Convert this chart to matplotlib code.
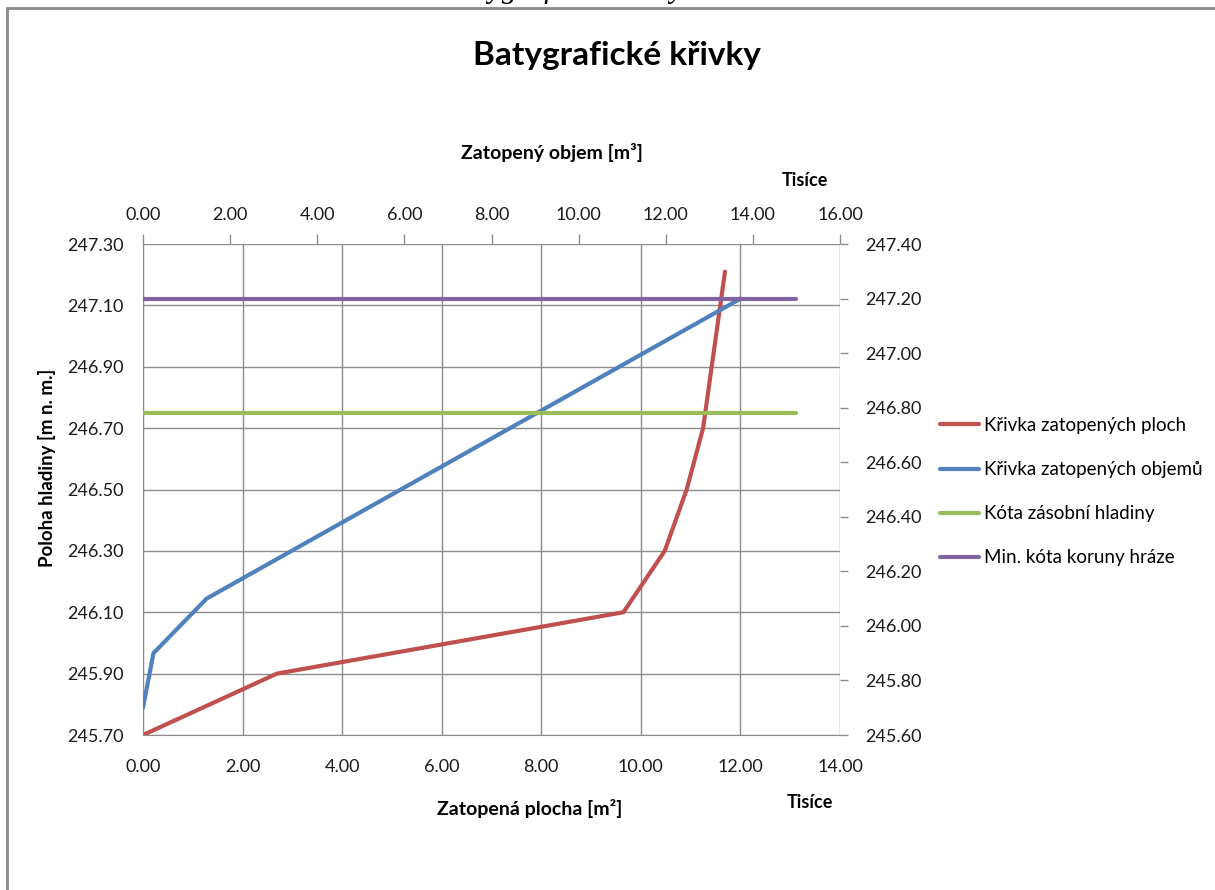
import numpy as np
import matplotlib.pyplot as plt
from matplotlib.patches import Rectangle

plt.rcParams['font.family'] = ['Lato', 'DejaVu Sans']

# Křivka zatopených ploch (tis. m2) -> kóta hladiny (levá osa)
plocha = [0.00, 2.69, 9.65, 10.48, 10.92, 11.25, 11.69]
kota_plocha = [245.70, 245.90, 246.10, 246.30, 246.50, 246.70, 247.21]

# Křivka zatopených objemů (tis. m3) -> kóta hladiny (pravá osa)
objem = [0.00, 0.24, 1.46, 13.72]
kota_objem = [245.70, 245.90, 246.10, 247.20]

# vodorovné kóty (horní a pravá osa)
kota_x = [0.0, 15.0]
zasobni = 246.78
koruna = 247.20

nazvy = ["Křivka zatopených ploch", "Křivka zatopených objemů",
         "Kóta zásobní hladiny", "Min. kóta koruny hráze"]
barvy = ["#C0504D", "#4F81BD", "#9BBB59", "#8064A2"]

W, H = 1215, 890
fig = plt.figure(figsize=(W / 100, H / 100), dpi=100)

# rámeček grafu
fig.patches.append(Rectangle((7 / W, -0.1), 1.2, 1 - 8 / H + 0.1,
                             transform=fig.transFigure, fill=False,
                             edgecolor="#8a8a8a", linewidth=2))
# oříznutý popisek z dokumentu nahoře
fig.text(0.465, 1 + 2.5 / H, "Batygrafické křivky", family="Liberation Serif",
         fontsize=22, ha="center", va="baseline", style="italic")

rect = [143 / W, 1 - 735 / H, (840 - 143) / W, (735 - 244) / H]
ax = fig.add_axes(rect)
ax2 = fig.add_axes(rect, frameon=False)

grid_c = "#8c8c8c"
tick_c = "#1a1a1a"

# primární osy
ax.plot(plocha, kota_plocha, color=barvy[0], lw=3, solid_capstyle="round")
ax.set_xlim(0, 14)
ax.set_ylim(245.70, 247.30)
ax.set_xticks(np.arange(0, 14.1, 2))
ax.set_yticks(np.arange(245.70, 247.31, 0.2))
ax.xaxis.set_major_formatter(plt.FormatStrFormatter("%.2f"))
ax.yaxis.set_major_formatter(plt.FormatStrFormatter("%.2f"))
ax.grid(True, color=grid_c, lw=1)
ax.tick_params(axis="x", length=0, pad=17, labelsize=13, labelcolor=tick_c)
ax.tick_params(axis="y", length=0, pad=14, labelsize=13, labelcolor=tick_c)
for s in ["top", "right"]:
    ax.spines[s].set_visible(False)
for s in ["left", "bottom"]:
    ax.spines[s].set_color(grid_c)

# sekundární osy
ax2.plot(objem, kota_objem, color=barvy[1], lw=3, solid_capstyle="round")
ax2.plot(kota_x, [zasobni, zasobni], color=barvy[2], lw=3, solid_capstyle="round")
ax2.plot(kota_x, [koruna, koruna], color=barvy[3], lw=3, solid_capstyle="round")
ax2.set_xlim(0, 16)
ax2.set_ylim(245.60, 247.40)
ax2.xaxis.tick_top()
ax2.yaxis.tick_right()
ax2.set_xticks(np.arange(0, 16.1, 2))
ax2.set_yticks(np.arange(245.60, 247.41, 0.2))
ax2.xaxis.set_major_formatter(plt.FormatStrFormatter("%.2f"))
ax2.yaxis.set_major_formatter(plt.FormatStrFormatter("%.2f"))
ax2.tick_params(axis="x", length=7, width=1, color=grid_c, pad=8,
                labelsize=13, labelcolor=tick_c)
ax2.tick_params(axis="y", length=6, width=1, color=grid_c, pad=12,
                labelsize=13, labelcolor=tick_c)
ax2.spines["top"].set_visible(True)
ax2.spines["right"].set_visible(True)
ax2.spines["top"].set_color(grid_c)
ax2.spines["right"].set_color(grid_c)

# popisky
fig.text(617 / W, 1 - 56 / H, "Batygrafické křivky", fontsize=24,
         fontweight="bold", ha="center", va="center")
fig.text(552 / W, 1 - 152 / H, "Zatopený objem [m³]", fontsize=14,
         fontweight="bold", ha="center", va="center")
fig.text(805 / W, 1 - 180 / H, "Tisíce", fontsize=13,
         fontweight="bold", ha="center", va="center")
fig.text(530 / W, 1 - 808 / H, "Zatopená plocha [m²]", fontsize=14,
         fontweight="bold", ha="center", va="center")
fig.text(810 / W, 1 - 803 / H, "Tisíce", fontsize=13,
         fontweight="bold", ha="center", va="center")
fig.text(47 / W, 1 - 468 / H, "Poloha hladiny [m n. m.]", fontsize=13.5,
         fontweight="bold", ha="center", va="center", rotation=90)

# legenda
handles = ax.get_lines() + ax2.get_lines()
fig.legend(handles, nazvy, loc="upper left",
           bbox_to_anchor=(923 / W, 1 - 400 / H), frameon=False,
           fontsize=13.5, handlelength=2.1, handletextpad=0.27,
           labelspacing=1.45)

plt.savefig("out.png", dpi=100)
